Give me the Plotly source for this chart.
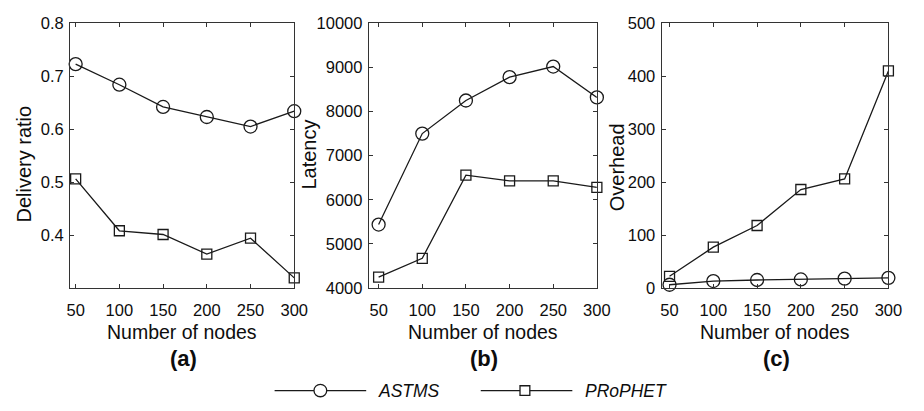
import plotly.graph_objects as go

nodes = [50, 100, 150, 200, 250, 300]
delivery_astms = [0.723, 0.684, 0.642, 0.623, 0.605, 0.634]
delivery_prophet = [0.506, 0.408, 0.401, 0.364, 0.394, 0.319]
latency_astms = [5437, 7500, 8250, 8780, 9020, 8320]
latency_prophet = [4245, 4672, 6556, 6426, 6426, 6282]
overhead_astms = [6, 13, 15, 16, 17.5, 19]
overhead_prophet = [22, 77, 118, 186, 206, 410]
panel_labels = ["(a)", "(b)", "(c)"]
y_titles = ["Delivery ratio", "Latency", "Overhead"]
x_title = "Number of nodes"
series_names = ["ASTMS", "PRoPHET"]

W, H = 924, 411
LINE = "#1a1a1a"
AX = "#333333"
TXT = "#0d0d0d"
FONT = "Liberation Sans, Arial, sans-serif"
LW = 1.3

fig = go.Figure()

panels = [
    (delivery_astms, delivery_prophet),
    (latency_astms, latency_prophet),
    (overhead_astms, overhead_prophet),
]
for i, (a, p) in enumerate(panels):
    xa = "x" if i == 0 else f"x{i+1}"
    ya = "y" if i == 0 else f"y{i+1}"
    fig.add_trace(go.Scatter(x=nodes, y=a, mode="lines+markers", name=series_names[0],
                             xaxis=xa, yaxis=ya, cliponaxis=False, showlegend=False,
                             line=dict(color=LINE, width=LW),
                             marker=dict(symbol="circle-open", size=13, color=LINE,
                                         line=dict(width=LW, color=LINE))))
    fig.add_trace(go.Scatter(x=nodes, y=p, mode="lines+markers", name=series_names[1],
                             xaxis=xa, yaxis=ya, cliponaxis=False, showlegend=False,
                             line=dict(color=LINE, width=LW),
                             marker=dict(symbol="square-open", size=10, color=LINE,
                                         line=dict(width=LW, color=LINE))))

px = lambda v: v / W
py = lambda v: 1 - v / H

x_domains = [(68.3, 296.7), (372.7, 605), (671, 902)]
x_ranges = [(43.6, 300), (38.8, 300), (41, 300)]
y_ranges = [(0.3, 0.8), (4000, 10000), (0, 500)]
y_ticks = [[0.4, 0.5, 0.6, 0.7, 0.8], [4000, 5000, 6000, 7000, 8000, 9000, 10000],
           [0, 100, 200, 300, 400, 500]]
y_ticktext = [["0.4", "0.5", "0.6", "0.7", "0.8"],
              ["4000", "5000", "6000", "7000", "8000", "9000", "10000"],
              ["0", "100", "200", "300", "400", "500"]]
ydom = [py(291.7), py(15)]

for i in range(3):
    sx = "xaxis" if i == 0 else f"xaxis{i+1}"
    sy = "yaxis" if i == 0 else f"yaxis{i+1}"
    anchor_y = "y" if i == 0 else f"y{i+1}"
    anchor_x = "x" if i == 0 else f"x{i+1}"
    fig.layout[sx] = dict(domain=[px(x_domains[i][0]), px(x_domains[i][1])],
                          range=list(x_ranges[i]), anchor=anchor_y,
                          tickvals=nodes, ticktext=[str(n) for n in nodes],
                          ticks="inside", ticklen=4, tickcolor=AX, tickwidth=1,
                          showline=True, linecolor=AX, linewidth=1.2, mirror="ticks",
                          showgrid=False, zeroline=False,
                          tickfont=dict(family=FONT, size=16.5, color=TXT),
                          ticklabelstandoff=7, fixedrange=True)
    fig.layout[sy] = dict(domain=ydom, range=list(y_ranges[i]), anchor=anchor_x,
                          tickvals=y_ticks[i], ticktext=y_ticktext[i],
                          ticks="inside", ticklen=4, tickcolor=AX, tickwidth=1,
                          showline=True, linecolor=AX, linewidth=1.2, mirror="ticks",
                          showgrid=False, zeroline=False,
                          tickfont=dict(family=FONT, size=16.5, color=TXT),
                          ticklabelstandoff=2, fixedrange=True)

annotations = []
ytitle_pos = [(21, 162), (312, 152), (625, 166)]
for i in range(3):
    cx = (x_domains[i][0] + x_domains[i][1]) / 2
    annotations.append(dict(x=px(cx), y=py(338), xref="paper", yref="paper",
                            text=x_title, showarrow=False, xanchor="center", yanchor="middle",
                            font=dict(family=FONT, size=19.5, color=TXT)))
    annotations.append(dict(x=px(cx + 1), y=py(366), xref="paper", yref="paper",
                            text="<b>" + panel_labels[i] + "</b>", showarrow=False,
                            xanchor="center", yanchor="middle",
                            font=dict(family=FONT, size=22, color=TXT)))
    annotations.append(dict(x=px(ytitle_pos[i][0]), y=py(ytitle_pos[i][1]), xref="paper", yref="paper",
                            text=y_titles[i], showarrow=False, textangle=-90,
                            xanchor="center", yanchor="middle",
                            font=dict(family=FONT, size=20, color=TXT)))

# legend (drawn manually)
ly = 399
shapes = [
    dict(type="line", xref="paper", yref="paper", x0=px(276.7), x1=px(370), y0=py(ly), y1=py(ly),
         line=dict(color=LINE, width=LW)),
    dict(type="circle", xref="paper", yref="paper", x0=px(323.3 - 6.5), x1=px(323.3 + 6.5),
         y0=py(ly + 6.5), y1=py(ly - 6.5), line=dict(color=LINE, width=LW), fillcolor="white"),
    dict(type="line", xref="paper", yref="paper", x0=px(486.7), x1=px(580), y0=py(ly), y1=py(ly),
         line=dict(color=LINE, width=LW)),
    dict(type="rect", xref="paper", yref="paper", x0=px(531.7 - 5), x1=px(531.7 + 5),
         y0=py(ly + 5), y1=py(ly - 5), line=dict(color=LINE, width=LW), fillcolor="white"),
]
annotations.append(dict(x=px(380), y=py(ly), xref="paper", yref="paper", text="<i>" + series_names[0] + "</i>",
                        showarrow=False, xanchor="left", yanchor="middle",
                        font=dict(family=FONT, size=17.5, color=TXT)))
annotations.append(dict(x=px(590.5), y=py(ly), xref="paper", yref="paper", text="<i>" + series_names[1] + "</i>",
                        showarrow=False, xanchor="left", yanchor="middle",
                        font=dict(family=FONT, size=17.5, color=TXT)))

fig.update_layout(width=W, height=H, margin=dict(l=0, r=0, t=0, b=0),
                  paper_bgcolor="white", plot_bgcolor="white",
                  annotations=annotations, shapes=shapes, showlegend=False)

fig.write_html("out.html", config={"displayModeBar": False})
